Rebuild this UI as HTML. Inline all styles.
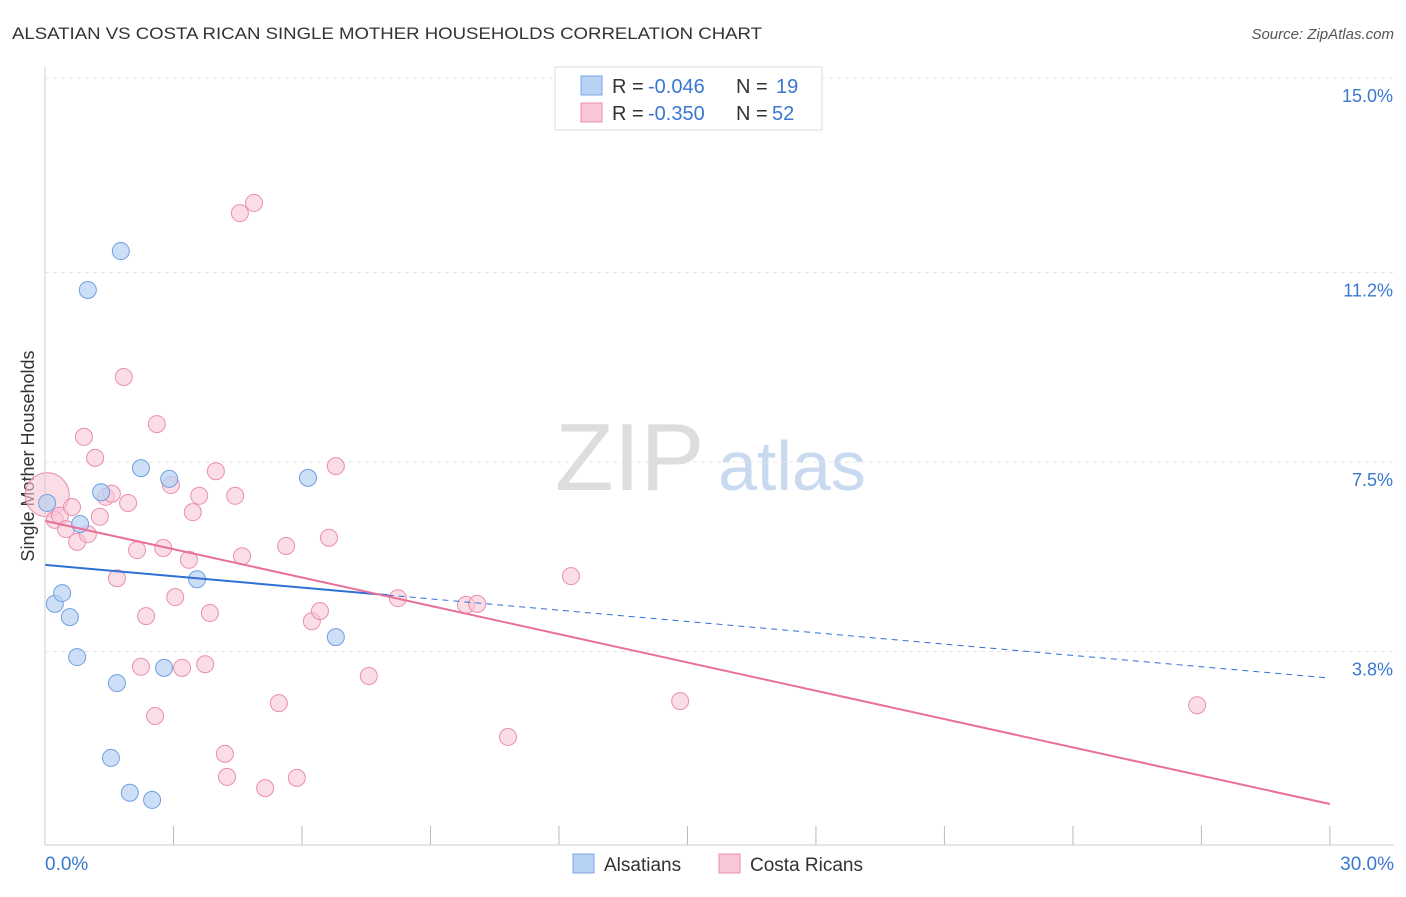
<!DOCTYPE html>
<html><head><meta charset="utf-8"><style>
body{margin:0;background:#fff;font-family:"Liberation Sans",sans-serif}
svg text{font-family:"Liberation Sans",sans-serif}
</style></head><body>
<svg id="c" width="1406" height="892">
<text x="12" y="39" font-size="17" fill="#333" textLength="750" lengthAdjust="spacingAndGlyphs">ALSATIAN VS COSTA RICAN SINGLE MOTHER HOUSEHOLDS CORRELATION CHART</text>
<text x="1394" y="39" font-size="15" fill="#555" text-anchor="end" font-style="italic">Source: ZipAtlas.com</text>
<text x="555" y="490" font-size="96" fill="#ddd" font-family="Liberation Serif">ZIP</text>
<text x="718" y="490" font-size="70" fill="#c9daf0">atlas</text>
<text transform="translate(34,456) rotate(-90)" font-size="18" fill="#333" text-anchor="middle">Single Mother Households</text>
<g id="grid"></g><g id="ticks"></g><g id="marks"></g>
<line x1="45" y1="67" x2="45" y2="845" stroke="#ccc"/>
<line x1="45" y1="845" x2="1394" y2="845" stroke="#ccc"/>
<text x="45" y="870" font-size="19" fill="#3a78d0">0.0%</text>
<text x="1394" y="870" font-size="19" fill="#3a78d0" text-anchor="end">30.0%</text>
<g>
<rect x="555" y="67" width="267" height="63" fill="#fff" stroke="#ddd"/>
<rect x="581" y="76" width="21" height="19" fill="#b8d2f4" stroke="#7aa6e0"/>
<rect x="581" y="103" width="21" height="19" fill="#f8c6d5" stroke="#e98fae"/>
<text x="612" y="93" font-size="20" fill="#333">R =</text>
<text x="648" y="93" font-size="20" fill="#3a78d0">-0.046</text>
<text x="736" y="93" font-size="20" fill="#333">N =</text>
<text x="776" y="93" font-size="20" fill="#3a78d0">19</text>
<text x="612" y="120" font-size="20" fill="#333">R =</text>
<text x="648" y="120" font-size="20" fill="#3a78d0">-0.350</text>
<text x="736" y="120" font-size="20" fill="#333">N =</text>
<text x="772" y="120" font-size="20" fill="#3a78d0">52</text>
</g>
<g>
<rect x="573" y="854" width="21" height="19" fill="#b8d2f4" stroke="#7aa6e0"/>
<text x="604" y="871" font-size="19" fill="#333">Alsatians</text>
<rect x="719" y="854" width="21" height="19" fill="#f8c6d5" stroke="#e98fae"/>
<text x="750" y="871" font-size="19" fill="#333">Costa Ricans</text>
</g>
</svg>
<script>
const yTicks=[15.0,11.2,7.5,3.8];
const yTickLabels=["15.0%","11.2%","7.5%","3.8%"];
const xTickVals=[0,3,6,9,12,15,18,21,24,27,30];
const alsX=[0.05,0.23,0.4,0.58,0.75,0.82,1.0,1.31,1.54,1.68,1.77,1.98,2.24,2.5,2.78,2.9,3.55,6.14,6.79];
const alsY=[6.7,4.73,4.94,4.47,3.69,6.29,10.86,6.91,1.72,3.18,11.62,1.04,7.38,0.9,3.48,7.17,5.21,7.19,4.08];
const crX=[0.05,0.23,0.35,0.49,0.63,0.75,0.91,1.0,1.17,1.28,1.42,1.56,1.68,1.84,1.94,2.15,2.24,2.36,2.57,2.61,2.76,2.94,3.04,3.2,3.36,3.45,3.6,3.74,3.85,3.99,4.2,4.25,4.44,4.55,4.6,4.88,5.14,5.46,5.63,5.88,6.23,6.42,6.63,6.79,7.56,8.24,9.83,10.09,10.81,12.28,14.83,26.9];
const crY=[6.86,6.37,6.45,6.19,6.62,5.94,7.99,6.09,7.58,6.43,6.82,6.88,5.23,9.16,6.7,5.78,3.5,4.49,2.54,8.24,5.82,7.05,4.86,3.48,5.59,6.52,6.84,3.55,4.55,7.32,1.8,1.35,6.84,12.36,5.66,12.56,1.13,2.79,5.86,1.33,4.39,4.59,6.02,7.42,3.32,4.84,4.71,4.73,2.13,5.27,2.83,2.75];
const alsTrend=[5.49,3.28];
const crTrend=[6.35,0.82];
const X=v=>45+v*42.83, Y=v=>846-v*51.2;
const NS="http://www.w3.org/2000/svg";
function mk(t,a,p){const e=document.createElementNS(NS,t);for(const k in a)e.setAttribute(k,a[k]);document.getElementById(p).appendChild(e);return e;}
yTicks.forEach((v,i)=>{
 const l=mk('line',{x1:45,x2:1394,y1:Y(v),y2:Y(v),stroke:'#e4e4e4','stroke-dasharray':'4,4'},'grid');
 
 
 const t=mk('text',{x:1393,y:Y(v)+24,'font-size':18,fill:'#3a78d0','text-anchor':'end'},'grid');
 t.textContent=yTickLabels[i];
 
 
});
xTickVals.forEach(v=>{
 const l=mk('line',{x1:X(v),x2:X(v),y1:826,y2:845,stroke:'#bbb'},'ticks');
 
 
});
crX.forEach((x,i)=>{
 const r=i===0?22:8.5;
 const c=mk('circle',{cx:X(x),cy:Y(crY[i]),r:r,fill:'#f8c6d5','fill-opacity':0.6,stroke:'#e98fae','stroke-width':1},'marks');
 
 
});
alsX.forEach((x,i)=>{
 const c=mk('circle',{cx:X(x),cy:Y(alsY[i]),r:8.5,fill:'#b8d2f4','fill-opacity':0.7,stroke:'#6f9fde','stroke-width':1},'marks');
 
 
});
const ay=v=>alsTrend[0]+(alsTrend[1]-alsTrend[0])*v/30;
let l1=mk('line',{x1:X(0),y1:Y(ay(0)),x2:X(8),y2:Y(ay(8)),stroke:'#2f6fd6','stroke-width':2},'marks');


let l2=mk('line',{x1:X(8),y1:Y(ay(8)),x2:X(30),y2:Y(ay(30)),stroke:'#2f6fd6','stroke-width':1,'stroke-dasharray':'6,5'},'marks');


let l3=mk('line',{x1:X(0),y1:Y(crTrend[0]),x2:X(30),y2:Y(crTrend[1]),stroke:'#e8709a','stroke-width':2},'marks');


</script>
</body></html>
